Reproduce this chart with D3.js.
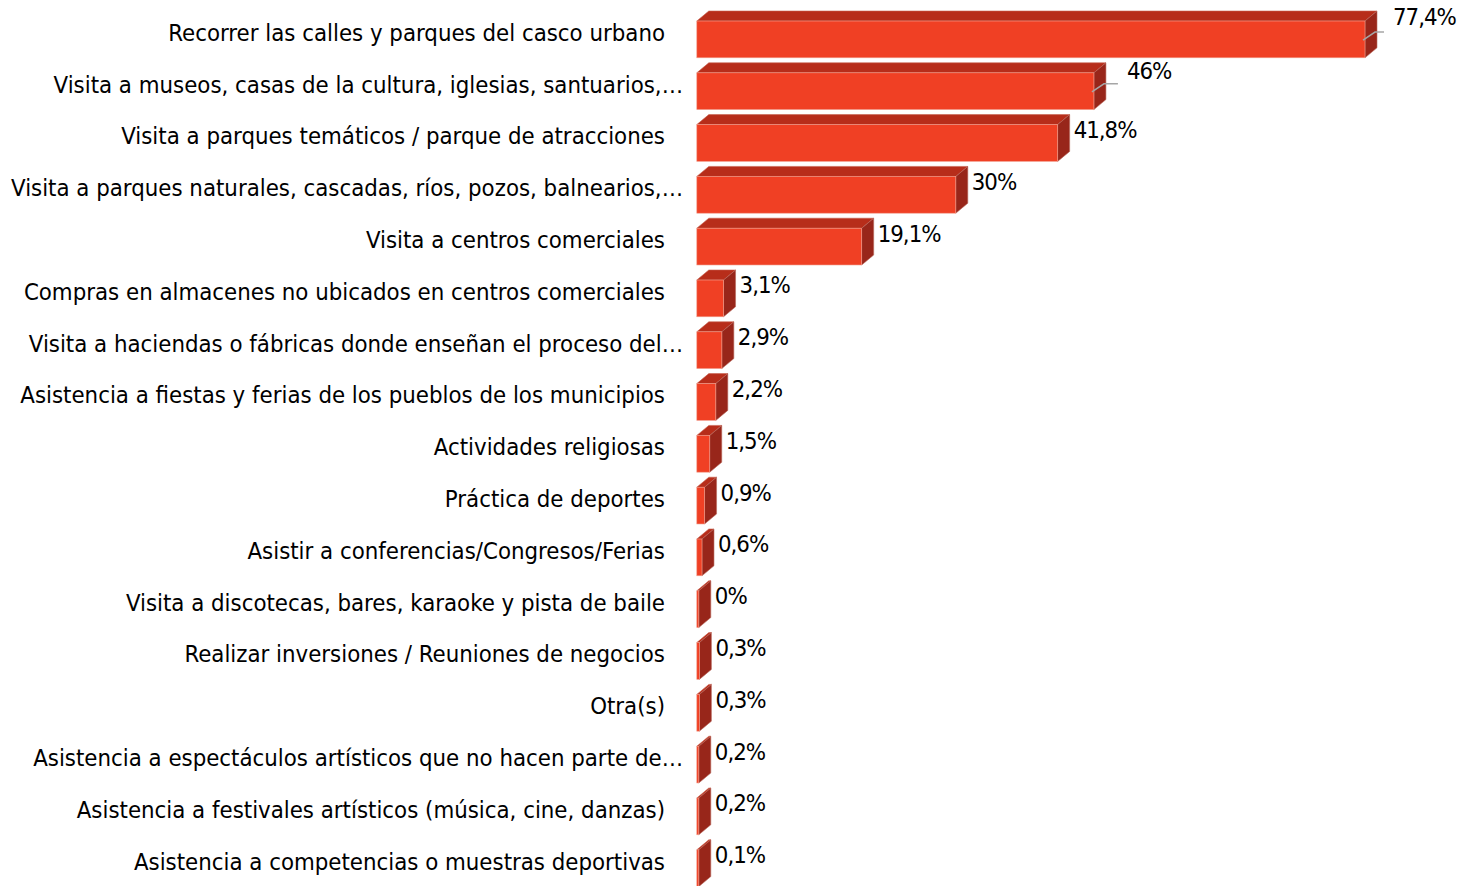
<!DOCTYPE html>
<html>
<head>
<meta charset="utf-8">
<script src="https://cdn.jsdelivr.net/npm/d3@7"></script>
<style>
  html, body { margin: 0; padding: 0; background: #ffffff; overflow: hidden; }
  svg { display: block; }
</style>
</head>
<body>
<svg id="chart" width="1470" height="886"></svg>
<script>
// ---- data ----
const categories = [
  "Recorrer las calles y parques del casco urbano",
  "Visita a museos, casas de la cultura, iglesias, santuarios,…",
  "Visita a parques temáticos / parque de atracciones",
  "Visita a parques naturales, cascadas, ríos, pozos, balnearios,…",
  "Visita a centros comerciales",
  "Compras en almacenes no ubicados en centros comerciales",
  "Visita a haciendas o fábricas donde enseñan el proceso del…",
  "Asistencia a fiestas y ferias de los pueblos de los municipios",
  "Actividades religiosas",
  "Práctica de deportes",
  "Asistir a conferencias/Congresos/Ferias",
  "Visita a discotecas, bares, karaoke y pista de baile",
  "Realizar inversiones / Reuniones de negocios",
  "Otra(s)",
  "Asistencia a espectáculos artísticos que no hacen parte de…",
  "Asistencia a festivales artísticos (música, cine, danzas)",
  "Asistencia a competencias o muestras deportivas"
];
const values = [77.4, 46, 41.8, 30, 19.1, 3.1, 2.9, 2.2, 1.5, 0.9, 0.6, 0, 0.3, 0.3, 0.2, 0.2, 0.1];
const valueLabels = ["77,4%", "46%", "41,8%", "30%", "19,1%", "3,1%", "2,9%", "2,2%", "1,5%", "0,9%", "0,6%", "0%", "0,3%", "0,3%", "0,2%", "0,2%", "0,1%"];

// ---- layout ----
const W = 1470, H = 886;
const FONT = "'DejaVu Sans Condensed', 'DejaVu Sans', sans-serif";
const DX = 12, DY = 10;              // 3D depth
const colFront = "#f04024", colTop = "#b72d1a", colSide = "#98261a";

const svg = d3.select("#chart");

const x = d3.scaleLinear().domain([0, 80]).range([696.8, 696.8 + 80 * 8.633]);
const y = d3.scaleBand().domain(categories).range([6, 901.6]).padding(0.29);

// fit font size so that the first label matches the reference width
const probe = svg.append("text").attr("font-family", FONT).attr("font-size", 20).text(categories[0]);
const w20 = probe.node().getComputedTextLength();
probe.remove();
const fontSize = 20 * 497 / w20;

// category labels
const labelRight = 665, labelRightTrunc = 683;
svg.append("g").selectAll("text").data(categories).join("text")
  .attr("x", d => d.endsWith("…") ? labelRightTrunc : labelRight)
  .attr("y", d => y(d) + y.bandwidth() / 2 - DY / 2 - 2)
  .attr("dy", "0.35em")
  .attr("text-anchor", "end")
  .attr("font-family", FONT)
  .attr("font-size", fontSize)
  .attr("fill", "#000")
  .text(d => d);

// bars
const bars = svg.append("g").selectAll("g").data(values).join("g");
const xl = x(0);
const xr = (v) => Math.max(x(v), xl + 2);
bars.append("path") // top face
  .attr("d", (v, i) => {
    const t = y(categories[i]), r = xr(v);
    return `M${xl},${t}L${xl + DX},${t - DY}L${r + DX},${t - DY}L${r},${t}Z`;
  })
  .attr("fill", colTop).attr("stroke", "#c8604e").attr("stroke-width", 0.6);
bars.append("path") // side face
  .attr("d", (v, i) => {
    const t = y(categories[i]), b = t + y.bandwidth(), r = xr(v);
    return `M${r},${t}L${r + DX},${t - DY}L${r + DX},${b - DY}L${r},${b}Z`;
  })
  .attr("fill", colSide).attr("stroke", "#b86a5e").attr("stroke-width", 0.6);
bars.append("rect") // front face
  .attr("x", xl)
  .attr("y", (v, i) => y(categories[i]))
  .attr("width", v => xr(v) - xl)
  .attr("height", y.bandwidth())
  .attr("fill", colFront).attr("stroke", "#f2a090").attr("stroke-width", 0.6);

// value labels (first two moved with leader lines, as in the reference)
const moved = { 0: { lx: 28, ly: -4 }, 1: { lx: 33, ly: -2 } };
const vl = svg.append("g");
values.forEach((v, i) => {
  const t = y(categories[i]), r = xr(v);
  let tx, ty;
  if (moved[i]) {
    tx = r + moved[i].lx; ty = t + moved[i].ly;
    const sx = r - 2, sy = t + 19;
    const ey = t + 11;
    vl.append("path")
      .attr("d", `M${sx},${sy}L${r + 10},${ey}L${tx - 9},${ey}`)
      .attr("fill", "none").attr("stroke", "#a6a6a6").attr("stroke-width", 1.5);
  } else {
    tx = r + DX + 4; ty = t + 5;
  }
  vl.append("text")
    .attr("x", tx).attr("y", ty).attr("dy", "0.35em")
    .attr("font-family", FONT).attr("font-size", fontSize)
    .attr("letter-spacing", -1)
    .attr("fill", "#000")
    .text(valueLabels[i]);
});
</script>
</body>
</html>
